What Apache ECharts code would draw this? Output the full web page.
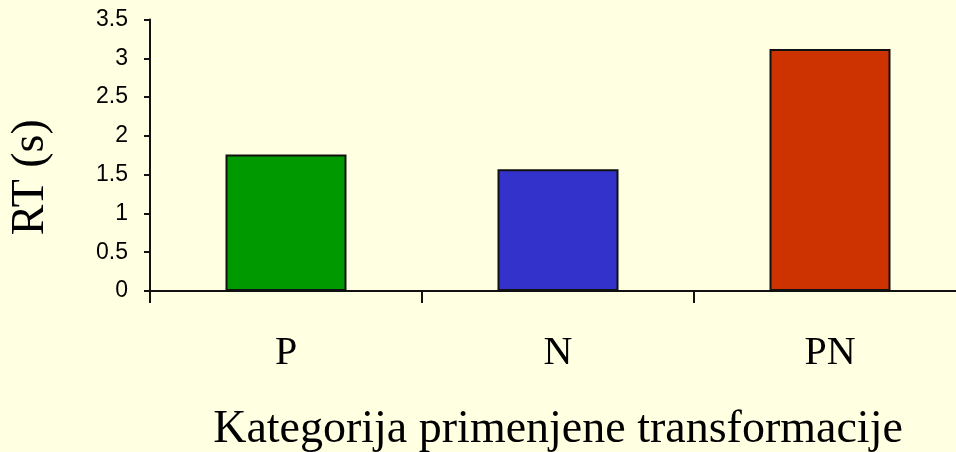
<!DOCTYPE html>
<html>
<head>
<meta charset="utf-8">
<script src="https://cdn.jsdelivr.net/npm/echarts@6/dist/echarts.min.js"></script>
<style>
  html, body { margin: 0; padding: 0; background: #FFFFE1; }
  #chart { width: 956px; height: 452px; }
</style>
</head>
<body>
<div id="chart"></div>
<script>
// kategorije i vrednosti (RT u sekundama)
const categories = ['P', 'N', 'PN'];
const rtValues = [1.76, 1.57, 3.12];
const barColors = ['#009900', '#3333CC', '#CC3300'];

const chart = echarts.init(document.getElementById('chart'));

const option = {
  backgroundColor: '#FFFFE1',
  animation: false,
  grid: {
    left: 150,
    top: 19.5,
    width: 816,
    height: 271.5,
    outerBoundsMode: 'none',
    containLabel: false,
  },
  xAxis: {
    type: 'category',
    data: categories,
    name: 'Kategorija primenjene transformacije',
    nameLocation: 'middle',
    nameGap: 116,
    nameTextStyle: {
      fontFamily: 'Liberation Serif',
      fontSize: 46,
      color: '#000',
    },
    axisLine: { lineStyle: { color: '#111', width: 2 } },
    axisTick: { show: true, length: 12, lineStyle: { color: '#111', width: 2 } },
    axisLabel: {
      margin: 42,
      fontFamily: 'Liberation Serif',
      fontSize: 40,
      color: '#000',
    },
  },
  yAxis: {
    type: 'value',
    min: 0,
    max: 3.5,
    interval: 0.5,
    name: 'RT (s)',
    nameLocation: 'middle',
    nameGap: 96,
    nameRotate: 90,
    nameTextStyle: {
      fontFamily: 'Liberation Serif',
      fontSize: 46,
      color: '#000',
      padding: [0, 44, 0, 0],
    },
    axisLine: { show: true, lineStyle: { color: '#111', width: 2 } },
    axisTick: { show: true, length: 6, lineStyle: { color: '#111', width: 2 } },
    axisLabel: {
      margin: 22,
      fontFamily: 'Liberation Sans',
      fontSize: 23,
      color: '#000',
    },
    splitLine: { show: false },
  },
  series: [
    {
      type: 'bar',
      barWidth: 121,
      data: rtValues.map((v, i) => ({
        value: v,
        itemStyle: { color: barColors[i] },
      })),
      itemStyle: {
        borderColor: '#111',
        borderWidth: 2,
      },
    },
  ],
};

chart.setOption(option);
</script>
</body>
</html>
